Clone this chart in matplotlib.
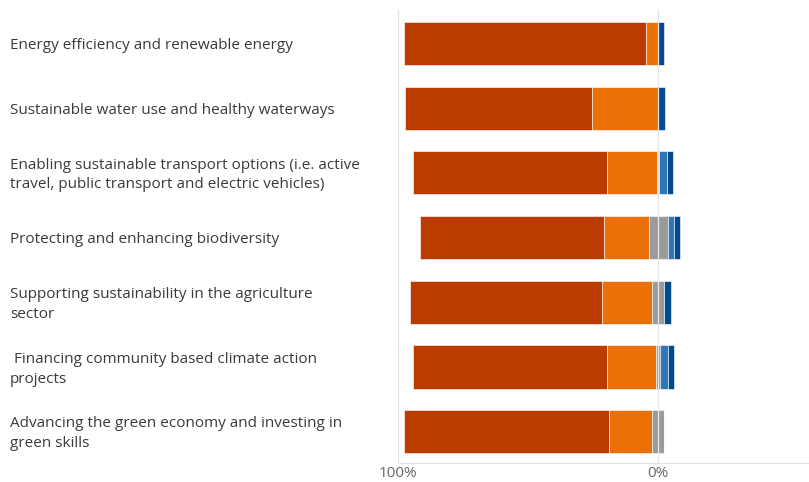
import numpy as np
import matplotlib
matplotlib.use("Agg")
import matplotlib.pyplot as plt
from matplotlib.transforms import blended_transform_factory, offset_copy

plt.rcParams['font.family'] = ['Open Sans', 'DejaVu Sans']

categories = [
    "Energy efficiency and renewable energy",
    "Sustainable water use and healthy waterways",
    "Enabling sustainable transport options (i.e. active\ntravel, public transport and electric vehicles)",
    "Protecting and enhancing biodiversity",
    "Supporting sustainability in the agriculture\nsector",
    " Financing community based climate action\nprojects",
    "Advancing the green economy and investing in\ngreen skills",
]

# percent of responses
strongly_support = [93.0, 71.9, 74.4, 70.8, 73.7, 74.4, 78.6]
support = [4.6, 25.5, 19.2, 17.0, 19.2, 18.8, 16.7]
neutral = [0.0, 0.0, 1.0, 7.3, 4.6, 1.7, 4.7]
oppose = [0.0, 0.0, 3.1, 2.6, 0.0, 2.8, 0.0]
strongly_oppose = [2.4, 2.6, 2.3, 2.3, 2.5, 2.3, 0.0]

tick_vals = [-100, 0]
tick_labels = ["100%", "0%"]

c_dark_orange = "#BA3C00"
c_orange = "#EB7007"
c_grey = "#9B9B9B"
c_light_blue = "#2E78B8"
c_dark_blue = "#004B8D"

fig = plt.figure(figsize=(8.09, 4.82), dpi=100)
ax = fig.add_axes([398 / 809, 1 - 463 / 482, 1 - 398 / 809, (463 - 10) / 482])

y = np.arange(len(categories))
ss = np.array(strongly_support)
s = np.array(support)
n = np.array(neutral)
o = np.array(oppose)
so = np.array(strongly_oppose)

# diverging: neutral is split around zero
left_start = -(ss + s + n / 2)
h = 0.665
kw = dict(height=h, edgecolor="white", linewidth=0.4, zorder=2)
ax.barh(y, ss, left=left_start, color=c_dark_orange, **kw)
ax.barh(y, s, left=left_start + ss, color=c_orange, **kw)
ax.barh(y, n, left=-n / 2, color=c_grey, **kw)
ax.barh(y, o, left=n / 2, color=c_light_blue, **kw)
ax.barh(y, so, left=n / 2 + o, color=c_dark_blue, **kw)

ax.set_xlim(-100, 58)
ax.set_ylim(len(categories) - 1 + 0.484, -0.518)

ax.axvline(-100, color="#e3e3e3", lw=0.9, zorder=1)
ax.axvline(0, color="#e6e6e6", lw=0.9, zorder=3)

for sp in ["top", "right", "left"]:
    ax.spines[sp].set_visible(False)
ax.spines["bottom"].set_color("#e3e3e3")
ax.spines["bottom"].set_linewidth(0.9)

ax.set_yticks([])
ax.set_xticks(tick_vals)
ax.set_xticklabels(tick_labels, fontsize=11, color="#666666")
ax.tick_params(axis="x", length=0, pad=2)

trans = blended_transform_factory(fig.transFigure, ax.transData)
trans = offset_copy(trans, fig=fig, y=-1.5, units="points")
for i, lab in enumerate(categories):
    ax.text(10 / 809, i, lab, transform=trans, ha="left", va="center",
            fontsize=11, color="#3a3a3a", linespacing=1.45)

fig.savefig("out.png", dpi=100)
